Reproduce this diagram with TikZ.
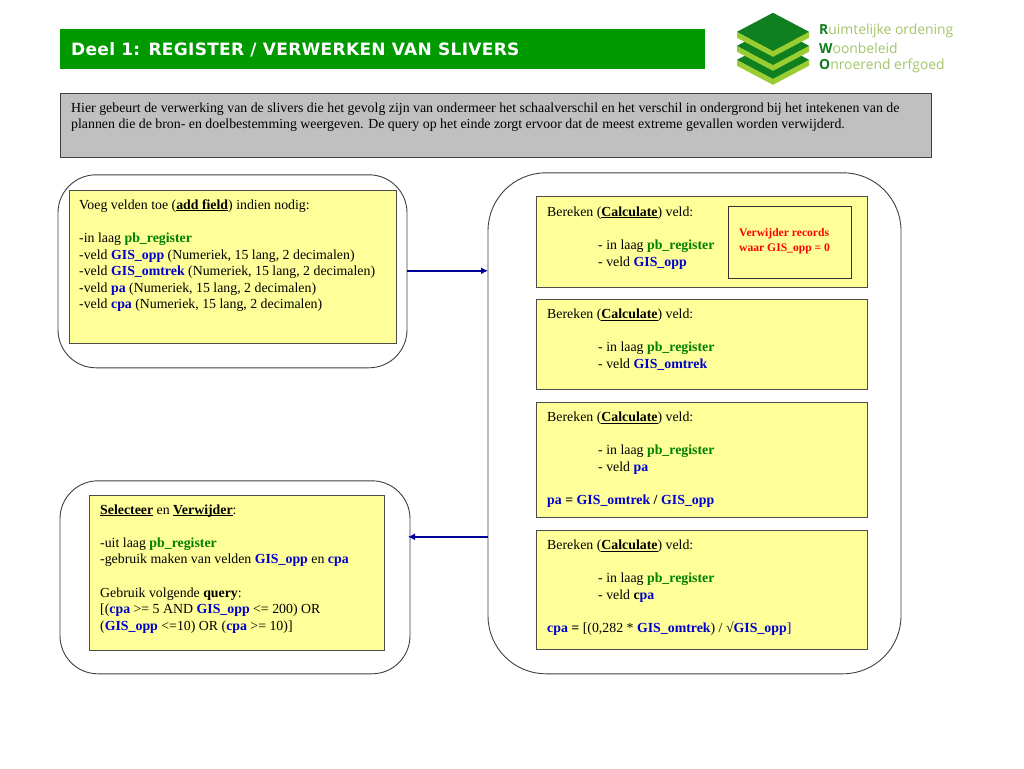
\documentclass[tikz,border=0pt]{standalone}
\usepackage{fontspec}
\setmainfont{Liberation Serif}
\newfontfamily\headfont[LetterSpace=1.8]{DejaVu Sans}
\newfontfamily\logofont{Open Sans}
\definecolor{yel}{HTML}{FFFF99}
\definecolor{hdr}{HTML}{009900}
\definecolor{gry}{HTML}{C0C0C0}
\definecolor{navy}{HTML}{000099}
\definecolor{grn}{HTML}{008000}
\definecolor{blu}{HTML}{0000CC}
\definecolor{lg1}{HTML}{0F7F1F}
\definecolor{lg2}{HTML}{9ACD32}
\definecolor{lgt}{HTML}{A5C56A}
\newcommand{\gr}[1]{\textbf{\textcolor{grn}{#1}}}
\newcommand{\bl}[1]{\textbf{\textcolor{blu}{#1}}}
\newcommand{\ub}[1]{\underline{\smash{\textbf{#1}}}}
\newcommand{\ind}{\hspace*{51pt}}
\usetikzlibrary{arrows.meta}
\tikzset{
 x=1pt,y=-1pt,
 body/.style={font=\fontsize{13.85}{16.6}\selectfont,anchor=north west,align=left,inner sep=0pt,text=black},
 ybox/.style={draw=black!70,fill=yel,line width=0.9pt},
 outer/.style={draw=black!75,line width=0.9pt,fill=white},
 link/.style={draw=navy,line width=2.2pt,-{Latex[length=7pt,width=7pt]}},
 logotext/.style={anchor=west,inner sep=0pt,font=\logofont\fontsize{13.9}{17}\selectfont,text=lgt},
}
\begin{document}
\begin{tikzpicture}
\useasboundingbox (0,0.2) rectangle (1024,768.2);
\fill[white] (0,0) rectangle (1024,769);
% header
\path[fill=hdr] (60,29) rectangle (705,69.5);
\node[anchor=west,inner sep=0pt,text=white,font=\headfont\bfseries\fontsize{17}{18}\selectfont] (title) at (71,50) {Deel 1: REGISTER / VERWERKEN VAN SLIVERS};
% logo
\foreach \d in {28,14,0}{
 \fill[lg2] (737,{32+\d}) -- (737,{38+\d}) -- (773,{57+\d}) -- (809,{38+\d}) -- (809,{32+\d}) -- (773,{51+\d}) -- cycle;
 \fill[lg1] (737,{32+\d}) -- (773,{13+\d}) -- (809,{32+\d}) -- (773,{51+\d}) -- cycle;
}
\node[logotext] (lg1t) at (819,30.6) {\textbf{\textcolor{lg1}{R}}uimtelijke ordening};
\node[logotext] (lg2t) at (819,48.1) {\textbf{\textcolor{lg1}{W}}oonbeleid};
\node[logotext] (lg3t) at (819,66.1) {\textbf{\textcolor{lg1}{O}}nroerend erfgoed};
% intro
\path[fill=gry,draw=black!75,line width=0.9pt] (60,94) rectangle (931,158);
\node[body] (intro) at (71,102.6) {Hier gebeurt de verwerking van de slivers die het gevolg zijn van ondermeer het schaalverschil en het verschil in ondergrond bij het intekenen van de\\plannen die de bron- en doelbestemming weergeven. De query op het einde zorgt ervoor dat de meest extreme gevallen worden verwijderd.};
% outer containers
\path[outer,rounded corners=38pt] (58,175) rectangle (407,368);
\coordinate (o1) at (407,271);
\path[outer,rounded corners=38pt] (60,481) rectangle (410,674);
\coordinate (o2) at (408,537);
\path[outer,rounded corners=58pt] (488,173) rectangle (901,674);
\coordinate (o3a) at (488,271);
\coordinate (o3b) at (488,537);
\draw[link] (o1) -- (o3a);
\draw[link] (o3b) -- (o2);
% left boxes
\path[ybox] (69,191) rectangle (396.6,344);
\node[body] (t1) at (79,199.6) {Voeg velden toe (\ub{add field}) indien nodig:\\[16.6pt]
-in laag \gr{pb\_register}\\
-veld \bl{GIS\_opp} (Numeriek, 15 lang, 2 decimalen)\\
-veld \bl{GIS\_omtrek} (Numeriek, 15 lang, 2 decimalen)\\
-veld \bl{pa} (Numeriek, 15 lang, 2 decimalen)\\
-veld \bl{cpa} (Numeriek, 15 lang, 2 decimalen)};
\path[ybox] (89,496) rectangle (384,651);
\node[body] (t2) at (100,507.6) {\ub{Selecteer} en \ub{Verwijder}:\\[16.6pt]
-uit laag \gr{pb\_register}\\
-gebruik maken van velden \bl{GIS\_opp} en \bl{cpa}\\[16.6pt]
Gebruik volgende \textbf{query}:\\
{[}(\bl{cpa} >= 5 AND \bl{GIS\_opp} <= 200) OR\\
(\bl{GIS\_opp} <=10) OR (\bl{cpa} >= 10)]};
% right boxes
\path[ybox] (536,197) rectangle (867,288);
\node[body] (c1) at (547,206.6) {Bereken (\ub{Calculate}) veld:\\[16.6pt]
\ind - in laag \gr{pb\_register}\\
\ind - veld \bl{GIS\_opp}};
\path[draw=black!80,line width=0.9pt,fill=yel] (728,207) rectangle (851,279);
\node[anchor=north west,inner sep=0pt,align=left,font=\fontsize{11.6}{14.2}\selectfont\bfseries,text=red] (rm) at (739,228.8) {Verwijder records\\waar GIS\_opp = 0};
\path[ybox] (536,300) rectangle (867,390);
\node[body] (c2) at (547,309.1) {Bereken (\ub{Calculate}) veld:\\[16.6pt]
\ind - in laag \gr{pb\_register}\\
\ind - veld \bl{GIS\_omtrek}};
\path[ybox] (536,403) rectangle (867,518);
\node[body] (c3) at (547,412.1) {Bereken (\ub{Calculate}) veld:\\[16.6pt]
\ind - in laag \gr{pb\_register}\\
\ind - veld \bl{pa}\\[16.6pt]
\bl{pa} \textbf{=} \bl{GIS\_omtrek} \textbf{/} \bl{GIS\_opp}};
\path[ybox] (536,531) rectangle (867,650);
\node[body] (c4) at (547,540.1) {Bereken (\ub{Calculate}) veld:\\[16.6pt]
\ind - in laag \gr{pb\_register}\\
\ind - veld \textbf{c}\bl{pa}\\[16.6pt]
\bl{cpa} \textbf{=} {[}(0,282 * \bl{GIS\_omtrek}) / \textbf{√}\bl{GIS\_opp}\textcolor{blu}{]}};
\end{tikzpicture}
\end{document}
